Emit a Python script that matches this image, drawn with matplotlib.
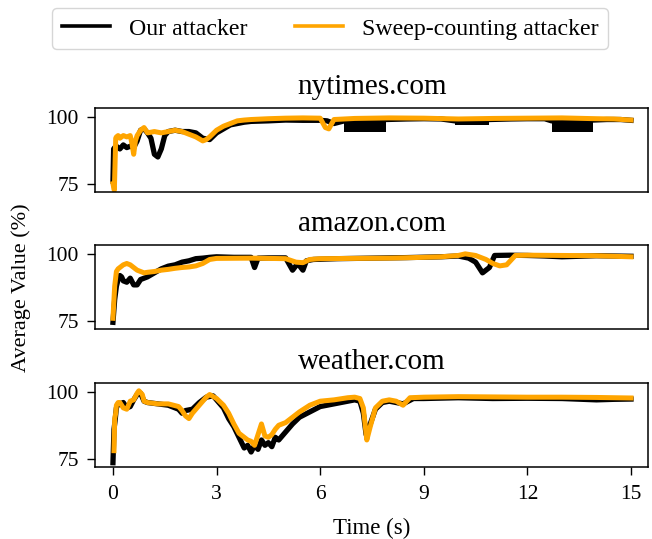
import matplotlib
matplotlib.use("Agg")
import matplotlib.pyplot as plt

plt.rcParams['font.family'] = ['Liberation Serif', 'DejaVu Serif']

# ---------------- data ----------------
sites = ["nytimes.com", "amazon.com", "weather.com"]
series_names = ["Our attacker", "Sweep-counting attacker"]
xticks = [0, 3, 6, 9, 12, 15]
yticks = [75, 100]

# nytimes.com
ny_t_ours = [0, 0.02, 0.05, 0.1, 0.2, 0.3, 0.4, 0.5, 0.6, 0.7, 0.8, 0.9, 1.0, 1.1, 1.2, 1.3,
             1.4, 1.5, 1.6, 1.8, 2.0, 2.2, 2.4, 2.6, 2.8, 3.0, 3.2, 3.4, 3.6, 3.8, 4.0, 4.5,
             5.0, 5.5, 6.0, 6.2, 6.4, 6.7, 7.0, 7.5, 7.9, 8.5, 9.0, 9.5, 9.9, 10.5, 10.9,
             11.5, 12.0, 12.5, 12.7, 13.0, 13.5, 13.9, 14.3, 14.7, 15.0]
ny_ours = [76, 88, 88.5, 89, 88, 89.5, 88.5, 89, 88.5, 91, 95, 95.5, 94, 92, 86, 85,
           88, 93, 94.5, 95, 94.5, 94.5, 94, 92, 91.5, 94, 95.5, 97, 97.5, 98, 98.3, 98.5,
           98.8, 98.7, 98.7, 98.5, 97.5, 98.5, 98.6, 98.6, 99, 99.2, 99.3, 99.2, 98.5, 98, 99,
           99.2, 99.3, 99.3, 98.5, 98.6, 98.6, 98.8, 99, 99, 98.7]
ny_t_sweep = [0, 0.04, 0.08, 0.1, 0.15, 0.2, 0.3, 0.4, 0.5, 0.55, 0.6, 0.65, 0.7, 0.8, 0.9,
              1.0, 1.2, 1.4, 1.6, 1.8, 2.0, 2.2, 2.4, 2.6, 2.7, 2.8, 3.0, 3.2, 3.4, 3.6, 3.8,
              4.0, 4.5, 5.0, 5.5, 6.0, 6.15, 6.25, 6.4, 7.0, 8.0, 9.0, 10.0, 11.0, 12.0, 13.0,
              14.0, 14.5, 15.0]
ny_sweep = [75, 72.5, 92, 92.5, 93, 92, 93, 92.5, 93, 90, 86, 91, 93, 95, 96,
            94, 94.5, 94, 94.5, 95, 94.5, 93.5, 92.5, 91, 91.5, 92.5, 95, 96.5, 97.5, 98.5, 98.8,
            99, 99.3, 99.5, 99.6, 99.5, 96, 95.5, 99, 99.4, 99.6, 99.5, 99.2, 99.4, 99.5, 99.6,
            99.3, 99.2, 98.8]
ny_band_start = [6.7, 9.9, 12.7]
ny_band_end = [7.9, 10.9, 13.9]
ny_band_low = [94.5, 97.0, 94.5]
ny_band_high = [98.5, 98.5, 98.5]

# amazon.com
am_t_ours = [0, 0.05, 0.1, 0.15, 0.2, 0.25, 0.3, 0.4, 0.5, 0.6, 0.7, 0.8, 0.9, 1.0, 1.2, 1.4,
             1.6, 1.8, 2.0, 2.2, 2.4, 2.6, 2.8, 3.0, 3.5, 4.0, 4.1, 4.2, 4.5, 5.0, 5.2, 5.35,
             5.5, 5.6, 5.8, 6.5, 7.5, 8.5, 9.5, 10.0, 10.3, 10.5, 10.7, 10.9, 11.05, 11.5,
             12.0, 12.5, 13.0, 13.5, 14.0, 14.5, 15.0]
am_ours = [74.5, 83, 88, 90.5, 92, 91.5, 90, 89.5, 91, 88.5, 88.5, 90.5, 91, 91.5, 93, 94.5,
           95.5, 96, 97, 97.5, 98.3, 98.5, 98.8, 99, 98.8, 98.8, 95, 98.5, 98.6, 98.6, 94, 96.5,
           94, 97.5, 98, 98.3, 98.5, 98.7, 99, 99.3, 98.5, 97, 93, 95, 99.5, 99.6,
           99.5, 99.3, 99, 99.2, 99.4, 99.3, 99.2]
am_t_sweep = [0, 0.05, 0.1, 0.15, 0.2, 0.3, 0.4, 0.5, 0.6, 0.7, 0.8, 0.9, 1.0, 1.2, 1.4, 1.6,
              1.8, 2.0, 2.2, 2.4, 2.6, 2.8, 3.0, 4.0, 5.0, 5.3, 5.5, 5.7, 6.0, 7.0, 8.0, 9.0,
              9.5, 10.0, 10.2, 10.5, 10.8, 11.0, 11.2, 11.4, 11.65, 12.0, 13.0, 14.0, 15.0]
am_sweep = [76, 88, 93.5, 94.5, 95, 96, 96.5, 96, 95, 94, 93.5, 93, 93.2, 93.5, 94, 94.3,
            94.7, 95, 95.2, 95.6, 96.5, 98, 98.4, 98.5, 98.3, 97, 96.8, 98, 98.3, 98.4, 98.5, 98.8,
            99, 99.5, 100.1, 99.5, 98, 96.5, 95.6, 96, 99.5, 99.6, 99.5, 99.4, 99]

# weather.com
we_t_ours = [0, 0.03, 0.06, 0.1, 0.15, 0.2, 0.3, 0.4, 0.5, 0.6, 0.7, 0.8, 0.9, 1.0, 1.3, 1.6,
             1.9, 2.0, 2.1, 2.3, 2.5, 2.7, 2.9, 3.0, 3.2, 3.35, 3.5, 3.65, 3.8, 3.9, 4.0, 4.1,
             4.2, 4.3, 4.4, 4.5, 4.6, 4.7, 4.8, 5.0, 5.2, 5.4, 5.7, 6.0, 6.4, 6.8, 7.0, 7.15,
             7.25, 7.33, 7.45, 7.6, 7.8, 8.0, 8.4, 8.7, 9.0, 10.0, 11.0, 12.0, 13.0, 14.0,
             14.5, 15.0]
we_ours = [73.5, 86, 89, 94, 95.5, 95.5, 96, 94, 94.5, 97, 99, 99.5, 96.5, 96, 95.5, 95,
           93.5, 92, 93, 93.5, 96, 98, 98.5, 97, 94, 90, 87, 83, 79, 80, 77.5, 80,
           78.5, 82, 80, 81, 79.5, 83, 82, 85, 88, 90.5, 92.5, 94.5, 95.5, 96.5, 97, 96.5,
           92, 84, 88, 93.5, 96, 96.5, 95.5, 97.5, 97.5, 97.8, 97.5, 97.6, 97.5, 97,
           97.2, 97.3]
we_t_sweep = [0.03, 0.05, 0.08, 0.1, 0.15, 0.2, 0.3, 0.4, 0.45, 0.5, 0.6, 0.7, 0.75, 0.85,
              0.9, 1.0, 1.3, 1.6, 1.9, 2.0, 2.1, 2.2, 2.3, 2.5, 2.7, 2.8, 3.0, 3.2, 3.35, 3.5,
              3.65, 3.8, 3.9, 4.0, 4.1, 4.2, 4.3, 4.4, 4.5, 4.6, 4.7, 4.8, 5.0, 5.2, 5.4, 5.7,
              6.0, 6.4, 6.8, 7.0, 7.15, 7.25, 7.35, 7.45, 7.6, 7.8, 8.0, 8.2, 8.4, 8.6, 9.0,
              10.0, 11.0, 12.0, 13.0, 14.0, 14.5, 15.0]
we_sweep = [78, 90, 92, 95, 96, 96, 94, 93.5, 95, 96.5, 97, 99.5, 100.4, 99,
            96.5, 96, 95.5, 95.5, 94.5, 93, 91, 90, 92, 95, 98, 99, 97.5, 95, 92, 88,
            84.5, 83, 82, 81.5, 80, 84, 88, 83.5, 83, 84, 86, 87.5, 88.5, 90.5, 92.5, 95,
            96.5, 97, 97.8, 98, 97.5, 94, 82, 87, 94, 96.5, 97, 96.5, 95, 97.8, 98,
            98.2, 98.1, 98, 98, 97.9, 97.8, 97.7]

panels = [
    (ny_t_ours, ny_ours, ny_t_sweep, ny_sweep,
     (ny_band_start, ny_band_end, ny_band_low, ny_band_high)),
    (am_t_ours, am_ours, am_t_sweep, am_sweep, None),
    (we_t_ours, we_ours, we_t_sweep, we_sweep, None),
]

# ---------------- figure ----------------
fig = plt.figure(figsize=(6.52, 5.39), dpi=100)
left, width = 0.1457, 0.8486
bottoms = [0.6443, 0.3896, 0.1341]
height = 0.1553

axes = []
for i, (name, p) in enumerate(zip(sites, panels)):
    ax = fig.add_axes([left, bottoms[i], width, height])
    t_o, v_o, t_s, v_s, bands = p
    h1, = ax.plot(t_o, v_o, color='black', lw=3.8)
    if bands is not None:
        for a, b, lo, hi in zip(*bands):
            ax.fill_between([a, b], [lo, lo], [hi, hi], color='black', lw=0)
    h2, = ax.plot(t_s, v_s, color='#FFA500', lw=3.6)
    ax.set_xlim(-0.52, 15.5)
    ax.set_ylim(72.0, 103.3)
    ax.set_yticks(yticks)
    ax.set_xticks(xticks)
    ax.tick_params(axis='both', labelsize=15.5, length=5.5, width=1.0)
    ax.tick_params(axis='y', pad=6)
    ax.tick_params(axis='x', pad=8)
    if i < 2:
        ax.set_xticklabels([])
        ax.tick_params(axis='x', length=0)
    for s in ax.spines.values():
        s.set_linewidth(1.1)
    ax.set_title(name, fontsize=21, pad=10.4)
    axes.append(ax)

axes[-1].set_xlabel("Time (s)", fontsize=16.5, labelpad=10)
fig.text(0.033, 0.466, "Average Value (%)", rotation=90, ha='center', va='center',
         fontsize=16)

leg = fig.legend([h1, h2], series_names, loc='upper center', bbox_to_anchor=(0.5067, 0.9846),
                 ncol=2, fontsize=17.2, borderaxespad=0, frameon=True)
for lh in leg.get_lines():
    lh.set_linewidth(2.6)

fig.savefig("out.png", dpi=100)
